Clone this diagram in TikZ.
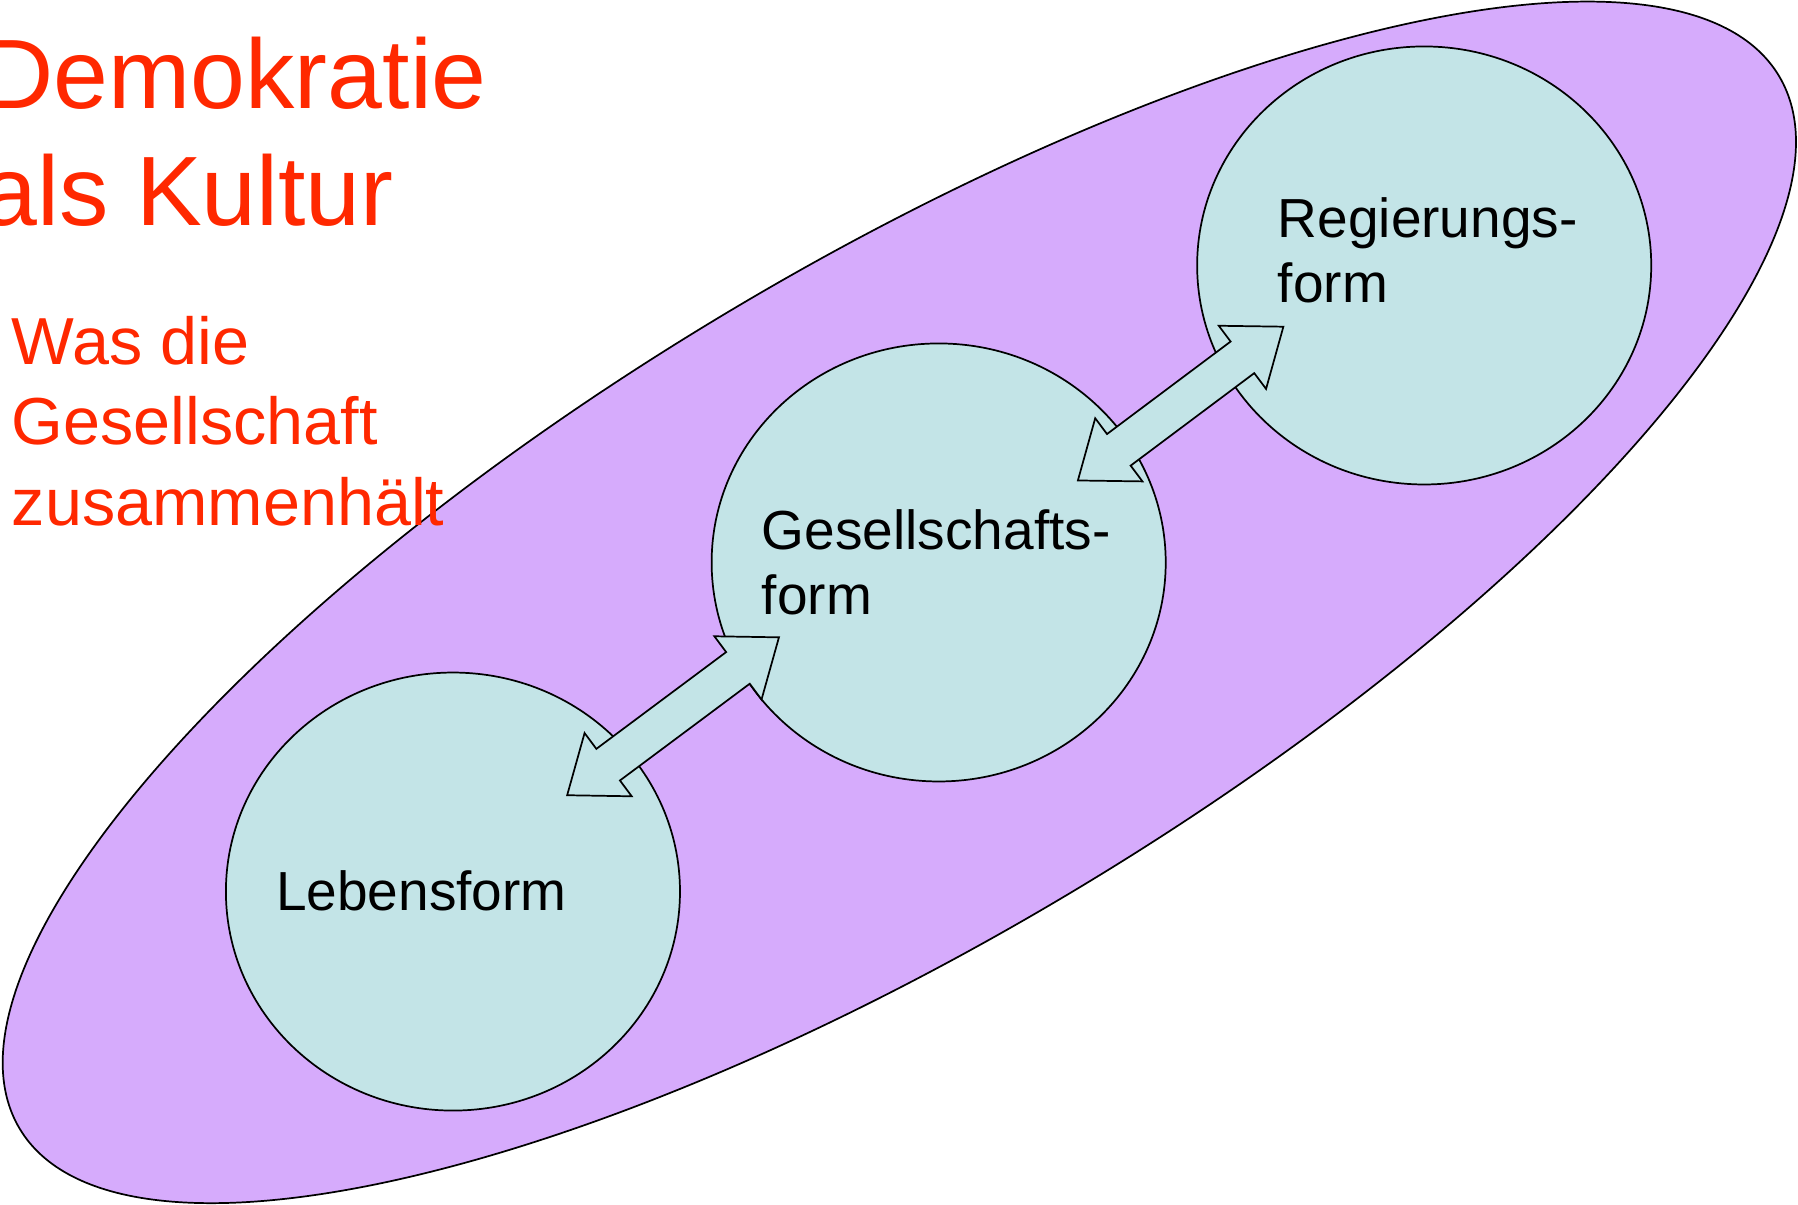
\documentclass[tikz,border=0pt]{standalone}
\usepackage{fontspec}
\setmainfont{Liberation Sans}
\usetikzlibrary{shapes.geometric,calc}
\definecolor{lila}{RGB}{214,171,252}
\definecolor{hellblau}{RGB}{195,228,231}
\definecolor{rot}{RGB}{255,40,0}
\newcommand\dpfeil[2]{%
  \draw[pfeil] (#1)
   -- ($(#1)!22.3pt!(#2)!17.2pt!90:(#2)$)
   -- ($(#1)!22.3pt!(#2)!8.6pt!90:(#2)$)
   -- ($(#2)!22.3pt!(#1)!8.6pt!-90:(#1)$)
   -- ($(#2)!22.3pt!(#1)!17.2pt!-90:(#1)$)
   -- (#2)
   -- ($(#2)!22.3pt!(#1)!17.2pt!90:(#1)$)
   -- ($(#2)!22.3pt!(#1)!8.6pt!90:(#1)$)
   -- ($(#1)!22.3pt!(#2)!8.6pt!-90:(#2)$)
   -- ($(#1)!22.3pt!(#2)!17.2pt!-90:(#2)$)
   -- cycle;}
\begin{document}
\begin{tikzpicture}[x=0.5pt,y=-0.5pt,
  umriss/.style={draw=black, line width=0.75pt},
  kreis/.style={ellipse, umriss, fill=hellblau, minimum width=198pt,
    minimum height=191pt, inner sep=0pt},
  pfeil/.style={umriss, fill=hellblau, line join=miter},
  etikett/.style={anchor=base west, inner sep=0pt, text=black,
    font=\fontsize{24}{28.5}\selectfont},
  titel/.style={anchor=base west, inner sep=0pt, text=rot,
    font=\fontsize{43}{51}\selectfont},
  untertitel/.style={anchor=base west, inner sep=0pt, text=rot,
    font=\fontsize{29}{35}\selectfont}]
\useasboundingbox (0,0) rectangle (1568,1050);
% grosse Ellipse
\draw[umriss, fill=lila, rotate around={30.9:(784.3,525.3)}]
  (784.3,525.3) ellipse [x radius=894, y radius=294];
% Kreise
\node[kreis] (leben) at (395,777.5) {};
\node[kreis] (gesell) at (818.6,490.5) {};
\node[kreis] (regier) at (1242,231.5) {};
% Pfeile
\coordinate (p1) at (494.6,693.5);
\coordinate (p2) at (679.3,555.8);
\coordinate (q1) at (940,419);
\coordinate (q2) at (1119.2,284.9);
\dpfeil{p1}{p2}
\dpfeil{q1}{q2}
% Beschriftungen
\node[etikett] (tleben) at (240.3,794) {Lebensform};
\node[etikett] (tgesell) at (664,479) {\begin{tabular}[t]{@{}l@{}}Gesellschafts-\\form\end{tabular}};
\node[etikett] (tregier) at (1114,207) {\begin{tabular}[t]{@{}l@{}}Regierungs-\\form\end{tabular}};
\node[titel] (titel) at (-15.5,95) {\begin{tabular}[t]{@{}l@{}}Demokratie\\als Kultur\end{tabular}};
\node[untertitel] (unter) at (10,318) {\begin{tabular}[t]{@{}l@{}}Was die\\Gesellschaft\\zusammenhält\end{tabular}};
\end{tikzpicture}
\end{document}
